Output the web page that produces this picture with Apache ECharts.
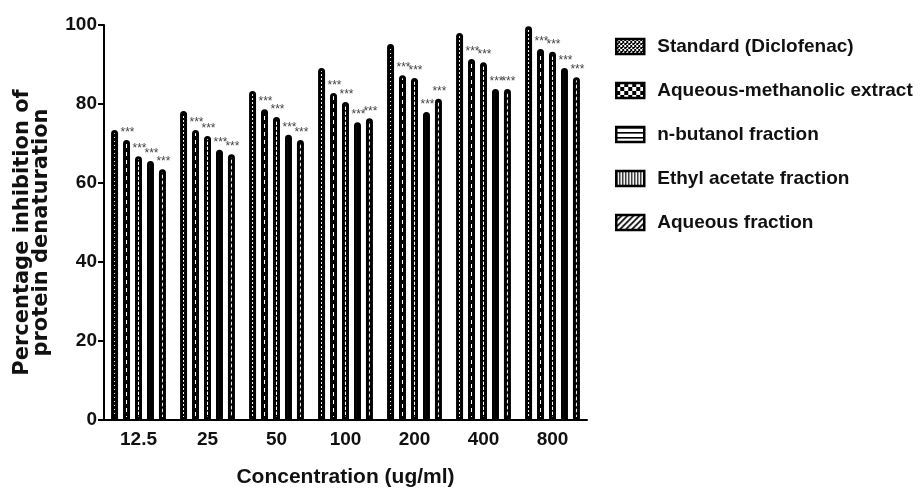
<!DOCTYPE html>
<html>
<head>
<meta charset="utf-8">
<script src="https://cdn.jsdelivr.net/npm/echarts@6/dist/echarts.min.js"></script>
<style>
html,body{margin:0;padding:0;background:#fff;}
#chart{width:921px;height:490px;}
</style>
</head>
<body>
<div id="chart"></div>
<script>
var categories = ['12.5', '25', '50', '100', '200', '400', '800'];
var seriesNames = ['Standard (Diclofenac)', 'Aqueous-methanolic extract', 'n-butanol fraction', 'Ethyl acetate fraction', 'Aqueous fraction'];
var standardValues = [73.4, 78.2, 83.3, 89.1, 95.2, 98.0, 99.7];
var aqMethValues = [70.9, 73.4, 78.7, 82.8, 87.3, 91.4, 93.9];
var butanolValues = [66.8, 71.9, 76.7, 80.5, 86.6, 90.6, 93.2];
var ethylValues = [65.6, 68.4, 72.2, 75.4, 78.0, 83.8, 89.1];
var aqueousValues = [63.5, 67.3, 70.9, 76.4, 81.3, 83.8, 86.8];
var yTicks = [0, 20, 40, 60, 80, 100];
var sigMark = '***';

function makeTile(w, h, draw) {
  var c = document.createElement('canvas');
  c.width = w; c.height = h;
  var ctx = c.getContext('2d');
  ctx.fillStyle = '#fff';
  ctx.fillRect(0, 0, w, h);
  ctx.fillStyle = '#000';
  ctx.strokeStyle = '#000';
  draw(ctx);
  return { image: c, repeat: 'repeat' };
}
var patterns = [
  makeTile(4, 4, function (ctx) { ctx.fillRect(0, 0, 2, 2); ctx.fillRect(2, 2, 2, 2); ctx.fillRect(2,0,1,1); }),
  makeTile(8, 8, function (ctx) { ctx.fillRect(0, 0, 4, 4); ctx.fillRect(4, 4, 4, 4); }),
  makeTile(4, 5, function (ctx) { ctx.fillRect(0, 0, 4, 1.6); }),
  makeTile(3, 4, function (ctx) { ctx.fillRect(0, 0, 1.2, 4); }),
  makeTile(6, 6, function (ctx) {
    ctx.lineWidth = 1.6;
    ctx.beginPath();
    ctx.moveTo(-1, 7); ctx.lineTo(7, -1);
    ctx.moveTo(-4, 4); ctx.lineTo(4, -4);
    ctx.moveTo(2, 10); ctx.lineTo(10, 2);
    ctx.stroke();
  })
];
var allValues = [standardValues, aqMethValues, butanolValues, ethylValues, aqueousValues];
var FONT = "'Liberation Sans', Arial, sans-serif";

var series = seriesNames.map(function (name, i) {
  return {
    name: name,
    type: 'bar',
    data: allValues[i],
    barWidth: 7,
    barGap: '71%',
    itemStyle: {
      color: patterns[i],
      borderColor: '#000',
      borderWidth: 3,
      borderRadius: [5, 5, 0, 0]
    },
    label: {
      show: i > 0,
      position: 'top',
      distance: 1,
      offset: [1, 0],
      formatter: sigMark,
      fontSize: 12,
      color: '#444',
      fontFamily: FONT
    },
    emphasis: { disabled: true },
    animation: false
  };
});

var chart = echarts.init(document.getElementById('chart'), null, { renderer: 'canvas' });
chart.setOption({
  backgroundColor: '#fff',
  animation: false,
  grid: { left: 104, right: 334, top: 25, bottom: 70, containLabel: false, outerBoundsMode: 'none' },
  legend: {
    orient: 'vertical',
    left: 610,
    top: 32,
    icon: 'rect',
    itemWidth: 28,
    itemHeight: 15,
    itemGap: 25,
    selectedMode: false,
    data: seriesNames,
    itemStyle: { borderWidth: 2.5, borderColor: '#000' },
    textStyle: { fontFamily: FONT, fontSize: 19, fontWeight: 'bold', color: '#111', padding: [0, 0, 0, 8] }
  },
  xAxis: {
    type: 'category',
    data: categories,
    name: 'Concentration (ug/ml)',
    nameLocation: 'middle',
    nameGap: 47,
    nameTextStyle: { fontFamily: FONT, fontSize: 21, fontWeight: 'bold', color: '#111' },
    axisLine: { lineStyle: { color: '#000', width: 2 } },
    axisTick: { alignWithLabel: true, length: 6, lineStyle: { width: 2, color: '#000' } },
    axisLabel: { fontFamily: FONT, fontSize: 19, fontWeight: 'bold', color: '#111', margin: 10 }
  },
  yAxis: {
    type: 'value',
    min: yTicks[0],
    max: yTicks[yTicks.length - 1],
    interval: yTicks[1] - yTicks[0],
    name: 'Percentage inhibition of\nprotein denaturation',
    nameLocation: 'middle',
    nameRotate: 90,
    nameGap: 53,
    nameTextStyle: { fontFamily: "'DejaVu Sans', sans-serif", fontSize: 21, fontWeight: 'bold', color: '#111', lineHeight: 19, padding: [0, 20, 0, 0] },
    splitLine: { show: false },
    axisLine: { show: true, lineStyle: { color: '#000', width: 2 } },
    axisTick: { show: true, length: 6, lineStyle: { width: 2, color: '#000' } },
    axisLabel: { fontFamily: FONT, fontSize: 19, fontWeight: 'bold', color: '#111', margin: 7 }
  },
  series: series
});
</script>
</body>
</html>
